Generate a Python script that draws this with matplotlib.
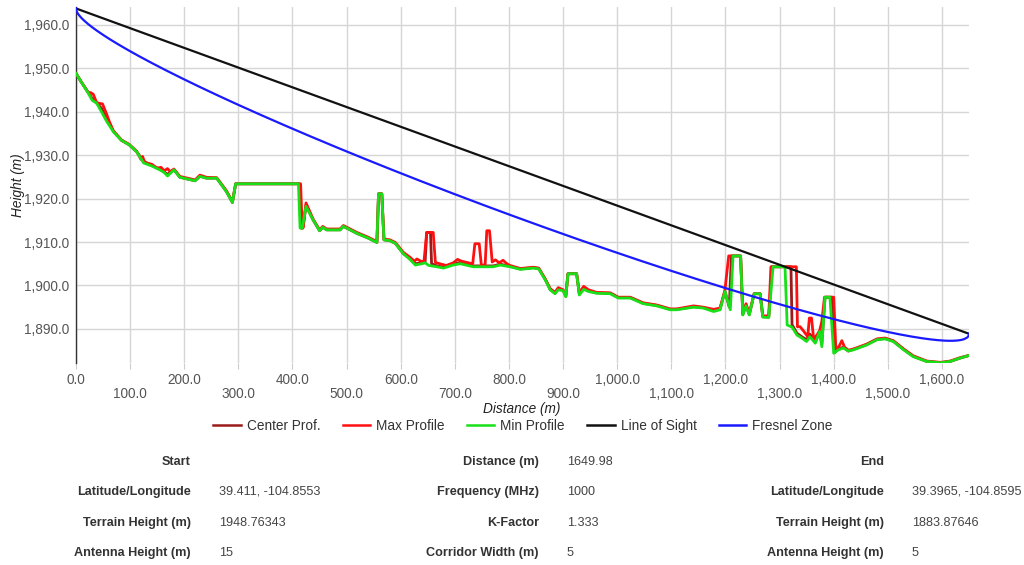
import numpy as np
import matplotlib
matplotlib.use("Agg")
import matplotlib.pyplot as plt
from matplotlib.lines import Line2D

plt.rcParams['font.family'] = ['Liberation Sans', 'DejaVu Sans']

# link parameters (from the table under the chart)
dist_total = 1649.98
freq_mhz = 1000
k_factor = 1.333
start_ground = 1948.76343
start_ant = 15
end_ground = 1883.87646
end_ant = 5

# terrain profiles (distance m, height m)
min_x = [0, 10, 23, 30, 38, 47, 57, 69, 84, 98, 112, 125, 140, 155, 163, 169, 181, 192, 220, 229,
         241, 260, 278, 289, 295, 411, 414, 418, 425, 438, 450, 456, 463, 488, 494, 519, 540, 556,
         559, 565, 569, 580, 590, 605, 617, 627, 639, 645, 652, 667, 679, 697, 710, 734, 771, 784,
         802, 821, 845, 855, 867, 876, 885, 891, 900, 905, 909, 925, 930, 938, 947, 962, 987, 1002,
         1024, 1048, 1073, 1098, 1110, 1141, 1159, 1178, 1190, 1199, 1209, 1214, 1228, 1232, 1238,
         1244, 1253, 1264, 1269, 1280, 1288, 1310, 1314, 1323, 1332, 1341, 1350, 1356, 1366, 1374,
         1378, 1384, 1393, 1400, 1409, 1418, 1427, 1437, 1461, 1480, 1495, 1510, 1529, 1547, 1572,
         1597, 1615, 1634, 1650]
min_y = [1948.8, 1946.8, 1944.2, 1942.6, 1942.0, 1940.0, 1937.7, 1935.4, 1933.4, 1932.4, 1930.8,
         1928.2, 1927.5, 1926.6, 1926.0, 1925.2, 1926.6, 1924.9, 1924.1, 1925.1, 1924.7, 1924.7,
         1921.6, 1919.1, 1923.4, 1923.4, 1913.2, 1913.2, 1918.2, 1915.1, 1912.6, 1913.4, 1912.8,
         1912.8, 1913.6, 1912.0, 1910.9, 1909.9, 1921.1, 1921.1, 1910.5, 1910.3, 1909.7, 1907.3,
         1906.0, 1904.7, 1905.0, 1905.2, 1904.6, 1904.3, 1904.0, 1904.7, 1905.0, 1904.3, 1904.3,
         1904.7, 1904.3, 1903.7, 1904.0, 1903.8, 1901.3, 1899.0, 1898.1, 1899.0, 1898.8, 1897.4,
         1902.7, 1902.7, 1897.8, 1899.1, 1898.6, 1898.2, 1898.1, 1897.1, 1897.1, 1895.8, 1895.3,
         1894.4, 1894.4, 1895.0, 1894.8, 1894.0, 1894.4, 1898.6, 1894.4, 1906.8, 1906.8, 1893.2,
         1895.3, 1893.2, 1898.1, 1898.1, 1892.7, 1892.6, 1904.3, 1904.3, 1890.9, 1890.4, 1888.6,
         1887.9, 1887.1, 1888.2, 1886.7, 1889.4, 1885.9, 1897.3, 1897.3, 1884.4, 1885.2, 1885.6,
         1884.9, 1885.2, 1886.3, 1887.5, 1887.7, 1887.1, 1885.2, 1883.6, 1882.5, 1882.2, 1882.5,
         1883.3, 1883.88]

max_x = [0, 10, 23, 27, 32, 38, 44, 49, 57, 62, 69, 84, 98, 112, 120, 123, 127, 140, 150, 157, 163,
         169, 174, 181, 192, 220, 229, 241, 260, 278, 289, 295, 415, 418, 420, 425, 438, 450, 456,
         463, 488, 494, 519, 540, 556, 559, 565, 569, 580, 590, 605, 617, 625, 630, 638, 643, 648,
         660, 664, 672, 684, 697, 705, 712, 722, 733, 737, 745, 749, 756, 759, 764, 769, 775, 782,
         789, 796, 802, 821, 845, 855, 867, 876, 885, 891, 900, 905, 909, 925, 930, 938, 947, 962,
         987, 1002, 1024, 1048, 1073, 1098, 1110, 1141, 1159, 1178, 1190, 1199, 1206, 1228, 1232,
         1238, 1244, 1253, 1264, 1269, 1280, 1284, 1331, 1333, 1338, 1345, 1352, 1355, 1359, 1363,
         1370, 1374, 1378, 1383, 1400, 1404, 1410, 1415, 1420, 1427, 1437, 1461, 1480, 1495, 1510,
         1529, 1547, 1572, 1597, 1615, 1634, 1650]
max_y = [1948.8, 1946.8, 1944.4, 1944.4, 1944.0, 1942.1, 1941.9, 1941.8, 1939.3, 1937.6, 1935.6,
         1933.5, 1932.5, 1930.9, 1929.0, 1929.7, 1928.3, 1927.9, 1927.0, 1927.2, 1926.4, 1926.9,
         1926.2, 1926.8, 1925.1, 1924.3, 1925.4, 1924.9, 1924.8, 1921.8, 1919.3, 1923.4, 1923.4,
         1913.2, 1913.4, 1919.0, 1915.3, 1912.8, 1913.6, 1913.0, 1913.0, 1913.8, 1912.2, 1911.1,
         1910.1, 1921.1, 1921.1, 1910.7, 1910.5, 1909.9, 1907.6, 1906.5, 1905.6, 1906.1, 1905.5,
         1905.6, 1912.2, 1912.2, 1905.3, 1905.0, 1904.6, 1905.2, 1906.0, 1905.6, 1905.3, 1905.0,
         1909.6, 1909.6, 1904.6, 1904.8, 1912.6, 1912.6, 1905.4, 1905.9, 1905.2, 1905.8, 1905.0,
         1904.6, 1903.9, 1904.2, 1904.0, 1901.5, 1899.3, 1898.4, 1899.5, 1899.0, 1897.6, 1902.7,
         1902.7, 1898.3, 1899.8, 1899.0, 1898.4, 1898.3, 1897.3, 1897.3, 1896.0, 1895.5, 1894.6,
         1894.6, 1895.3, 1895.0, 1894.5, 1894.8, 1898.9, 1906.8, 1906.8, 1893.5, 1895.8, 1893.5,
         1898.1, 1898.1, 1893.0, 1893.0, 1904.3, 1904.3, 1890.5, 1890.5, 1889.4, 1888.2, 1892.5,
         1892.5, 1887.6, 1888.8, 1889.6, 1891.7, 1897.3, 1897.3, 1885.2, 1886.0, 1887.3, 1885.8,
         1885.1, 1885.4, 1886.5, 1887.7, 1887.9, 1887.3, 1885.4, 1883.8, 1882.6, 1882.3, 1882.6,
         1883.4, 1883.9]

center_x = [0, 10, 23, 30, 38, 47, 57, 69, 84, 98, 112, 125, 140, 155, 169, 181, 192, 220, 229, 241,
            260, 278, 289, 295, 413, 416, 419, 425, 438, 450, 456, 463, 488, 494, 519, 540, 556, 559,
            565, 569, 580, 590, 605, 617, 627, 639, 645, 648, 655, 657, 667, 679, 697, 710, 734, 771,
            784, 802, 821, 845, 855, 867, 876, 885, 891, 900, 905, 909, 925, 930, 938, 947, 962, 987,
            1002, 1024, 1048, 1073, 1098, 1110, 1141, 1159, 1178, 1190, 1199, 1207, 1211, 1228, 1232,
            1238, 1244, 1253, 1264, 1269, 1280, 1286, 1321, 1323, 1332, 1341, 1350, 1356, 1366, 1374,
            1378, 1384, 1396, 1402, 1409, 1418, 1427, 1437, 1461, 1480, 1495, 1510, 1529, 1547, 1572,
            1597, 1615, 1634, 1650]
center_y = [1948.8, 1946.8, 1944.3, 1943.0, 1942.0, 1940.8, 1938.3, 1935.5, 1933.4, 1932.4, 1930.8,
            1928.6, 1927.6, 1926.8, 1925.6, 1926.6, 1924.9, 1924.1, 1925.2, 1924.7, 1924.7, 1921.6,
            1919.1, 1923.4, 1923.4, 1913.2, 1913.2, 1918.5, 1915.1, 1912.6, 1913.4, 1912.8, 1912.8,
            1913.6, 1912.0, 1910.9, 1909.9, 1921.1, 1921.1, 1910.5, 1910.3, 1909.7, 1907.3, 1906.2,
            1905.0, 1905.2, 1905.3, 1912.2, 1912.2, 1905.0, 1904.5, 1904.2, 1904.9, 1905.3, 1904.5,
            1904.5, 1904.9, 1904.4, 1903.8, 1904.1, 1903.9, 1901.4, 1899.1, 1898.2, 1899.2, 1898.9,
            1897.5, 1902.7, 1902.7, 1898.0, 1899.4, 1898.8, 1898.3, 1898.2, 1897.2, 1897.2, 1895.9,
            1895.4, 1894.5, 1894.5, 1895.1, 1894.9, 1894.2, 1894.6, 1898.7, 1895.0, 1906.8, 1906.8,
            1893.3, 1895.5, 1893.3, 1898.1, 1898.1, 1892.8, 1892.8, 1904.3, 1904.3, 1891.0, 1889.0,
            1888.2, 1887.5, 1888.8, 1887.0, 1889.5, 1886.5, 1897.3, 1897.3, 1884.6, 1885.4, 1885.8,
            1884.9, 1885.3, 1886.4, 1887.6, 1887.8, 1887.2, 1885.3, 1883.7, 1882.5, 1882.2, 1882.5,
            1883.3, 1883.88]

x_ticks = list(range(0, 1700, 100))
y_ticks = list(range(1890, 1970, 10))

table_rows = [
    ("Start", "", "Distance (m)", "1649.98", "End", ""),
    ("Latitude/Longitude", "39.411, -104.8553", "Frequency (MHz)", "1000",
     "Latitude/Longitude", "39.3965, -104.8595"),
    ("Terrain Height (m)", "1948.76343", "K-Factor", "1.333", "Terrain Height (m)", "1883.87646"),
    ("Antenna Height (m)", "15", "Corridor Width (m)", "5", "Antenna Height (m)", "5"),
]

# line of sight between the two antennas and the first Fresnel zone below it
los_x = [0, dist_total]
los_y = [start_ground + start_ant, end_ground + end_ant]
wavelength = 299.792458 / freq_mhz
fz_x = np.concatenate([np.linspace(0, 5, 60), np.linspace(5, dist_total - 5, 400),
                       np.linspace(dist_total - 5, dist_total, 60)])
fz_los = np.interp(fz_x, los_x, los_y)
fz_y = fz_los - np.sqrt(wavelength * fz_x * (dist_total - fz_x) / dist_total)

fig = plt.figure(figsize=(10.24, 5.65), dpi=100)
ax = fig.add_axes([76 / 1024, 1 - 363 / 565, 893 / 1024, 356 / 565])

c_center = '#9b1b1b'
c_max = '#ff1010'
c_min = '#18e018'
c_los = '#111111'
c_fz = '#1a1aff'

ax.plot(center_x, center_y, color=c_center, lw=2.0, zorder=3)
ax.plot(max_x, max_y, color=c_max, lw=2.0, zorder=4)
ax.plot(min_x, min_y, color=c_min, lw=2.0, zorder=5)
ax.plot(los_x, los_y, color=c_los, lw=1.6, zorder=6)
ax.plot(fz_x, fz_y, color=c_fz, lw=1.6, zorder=6)

ax.set_xlim(0, dist_total)
ax.set_ylim(1882.15, 1964.1)

ax.set_xticks(x_ticks)
ax.set_xticklabels([("" if i % 2 == 0 else "\n") + f"{v:,.1f}" for i, v in enumerate(x_ticks)])
ax.set_yticks(y_ticks)
ax.set_yticklabels([f"{v:,.1f}" for v in y_ticks])
ax.tick_params(axis='x', length=4, color='#cccccc', pad=3, labelsize=9.8, labelcolor='#555555')
ax.tick_params(axis='y', length=0, pad=5, labelsize=9.8, labelcolor='#555555')
for lab in ax.get_xticklabels():
    lab.set_linespacing(1.05)

ax.grid(True, color='#d6d6d6', lw=1)
ax.set_axisbelow(True)
for s in ['top', 'right', 'bottom']:
    ax.spines[s].set_visible(False)
ax.spines['left'].set_color('#333333')
ax.spines['left'].set_linewidth(1)

fig.text(18 / 1024, 1 - 185 / 565, "Height (m)", rotation=90, style='italic',
         fontsize=9.8, color='#222222', ha='center', va='center')
fig.text(522 / 1024, 1 - 409 / 565, "Distance (m)", style='italic',
         fontsize=9.8, color='#222222', ha='center', va='center')

handles = [Line2D([], [], color=c, lw=1.8) for c in [c_center, c_max, c_min, c_los, c_fz]]
names = ["Center Prof.", "Max Profile", "Min Profile", "Line of Sight", "Fresnel Zone"]
leg = fig.legend(handles, names, loc='center', bbox_to_anchor=(523 / 1024, 1 - 426 / 565),
                 ncol=5, frameon=False, fontsize=9.8, handlelength=2.0, handletextpad=0.45,
                 columnspacing=1.65, borderpad=0)
for t in leg.get_texts():
    t.set_color('#333333')

# parameter table
row_y = [462, 492, 523, 553]
label_right = [191, 539, 884]
value_left = [219, 567, 912]
for r, row in enumerate(table_rows):
    for c in range(3):
        lab, val = row[2 * c], row[2 * c + 1]
        fig.text(label_right[c] / 1024, 1 - row_y[r] / 565, lab, ha='right', va='center',
                 fontsize=9.1, fontweight='bold', color='#333333')
        if val:
            fig.text(value_left[c] / 1024, 1 - row_y[r] / 565, val, ha='left', va='center',
                     fontsize=9.1, color='#444444')

fig.savefig("out.png", dpi=100)
